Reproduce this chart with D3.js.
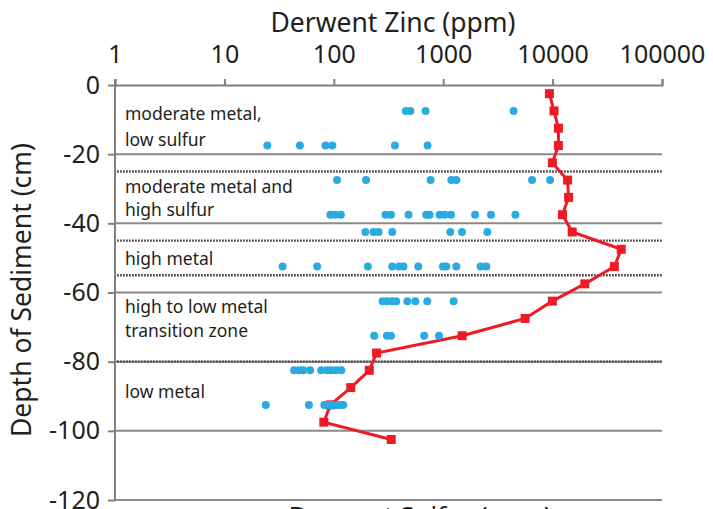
<!DOCTYPE html>
<html>
<head>
<meta charset="utf-8">
<script src="https://cdn.jsdelivr.net/npm/d3@7"></script>
<style>
	body { margin: 0; background: #fff; }
	svg text { font-family: "Noto Sans", "Open Sans", sans-serif; fill: #231f20; }
</style>
</head>
<body>
<svg></svg>
<script>
// Depth profile data (cm, ppm)
const xTicks = [1, 10, 100, 1000, 10000, 100000];
const yTicks = [0, -20, -40, -60, -80, -100, -120];
const gridDepths = [-20, -40, -60, -80, -100, -120];
const zoneDepths = [-25, -45, -55, -80];

const zincDepths = [-2.5, -7.5, -12.5, -17.5, -22.5, -27.5, -32.5, -37.5, -42.5, -47.5, -52.5,
	-57.5, -62.5, -67.5, -72.5, -77.5, -82.5, -87.5, -92.5, -97.5, -102.5];
const zincValues = [9350, 10300, 11300, 11300, 9950, 13700, 14000, 12300, 15100, 42400, 36700,
	19700, 9950, 5600, 1490, 246, 211, 143, 93, 81, 335];

const dotDepths = [-7.5, -17.5, -27.5, -37.5, -42.5, -52.5, -62.5, -72.5, -82.5, -92.5];
const dotValues = [
	[455, 500, 690, 4400],
	[24.7, 49, 84, 97, 362, 720],
	[107, 197, 767, 1186, 1318, 6490, 9490],
	[93, 103, 116, 297, 333, 482, 700, 751, 927, 1030, 1178, 1955, 2735, 4570],
	[194, 231, 257, 342, 1161, 1486, 2531],
	[34, 70.5, 205, 342, 394, 434, 592, 996, 1067, 1318, 2198, 2479],
	[279, 306, 340, 372, 470, 556, 715, 1245],
	[234, 306, 333, 671, 915],
	[43.4, 48.3, 52.5, 60.8, 76.7, 87, 94.7, 105, 117],
	[23.9, 59.2, 82, 89, 97, 105, 114, 122]
];

const zoneLabels = [
	["moderate metal,", "low sulfur"],
	["moderate metal and", "high sulfur"],
	["high metal"],
	["high to low metal", "transition zone"],
	["low metal"]
];
const zoneLabelDepths = [
	[-10.1, -17.5],
	[-31.1, -38.0],
	[-52.1],
	[-66.0, -73.0],
	[-90.4]
];

const svgWidth = 713;
const svgHeight = 509;
const margins = {top: 85, right: 51, bottom: 9, left: 115};

const scaleX = d3.scaleLog()
	.domain([1, 100000])
	.range([margins.left, svgWidth - margins.right]);

const scaleY = d3.scaleLinear()
	.domain([0, -120])
	.range([margins.top, svgHeight - margins.bottom]);

const chart = d3.select('svg')
	.attr('width', svgWidth)
	.attr('height', svgHeight);

const x0 = scaleX.range()[0], x1 = scaleX.range()[1];

// gridlines
chart.append("g")
	.selectAll("line")
	.data(gridDepths)
	.join("line")
	.attr("x1", x0).attr("x2", x1)
	.attr("y1", d => scaleY(d)).attr("y2", d => scaleY(d))
	.attr("stroke", "#8a8a8a")
	.attr("stroke-width", 2);

// zone boundaries
chart.append("g")
	.selectAll("line")
	.data(zoneDepths)
	.join("line")
	.attr("x1", x0 + 2).attr("x2", x1)
	.attr("y1", d => scaleY(d)).attr("y2", d => scaleY(d))
	.attr("stroke", "#4d4d4d")
	.attr("stroke-width", 2.4)
	.attr("stroke-dasharray", "1.8,1.2");

// top axis
chart.append("g")
	.attr("transform", `translate(0, ${margins.top})`)
	.call(d3.axisTop(scaleX)
		.tickValues(xTicks)
		.tickSize(6)
		.tickPadding(16)
		.tickFormat(d => String(d)))
	.call(g => g.selectAll("line, path").attr("stroke", "#808080").attr("stroke-width", 2))
	.call(g => g.selectAll("text").attr("font-size", 25));

// left axis
chart.append("g")
	.attr("transform", `translate(${margins.left}, 0)`)
	.call(d3.axisLeft(scaleY)
		.tickValues(yTicks)
		.tickSize(7)
		.tickPadding(8)
		.tickFormat(d => String(d)))
	.call(g => g.select(".domain").attr("d", `M0,${scaleY(0) - 6}V${scaleY(-120)}`))
	.call(g => g.selectAll("line, path").attr("stroke", "#808080").attr("stroke-width", 2))
	.call(g => g.selectAll("text").attr("font-size", 25).attr("fill", "#231f20"));

chart.selectAll(".tick text").style("font-family", '"Noto Sans", sans-serif');

// zone labels
zoneLabels.forEach((lines, i) => {
	lines.forEach((txt, j) => {
		chart.append("text")
			.attr("x", 125)
			.attr("y", scaleY(zoneLabelDepths[i][j]))
			.attr("font-size", 17.5)
			.text(txt);
	});
});

// zinc line
const line = d3.line()
	.x((d, i) => scaleX(zincValues[i]))
	.y(d => scaleY(d));

chart.append("path")
	.datum(zincDepths)
	.attr("fill", "none")
	.attr("stroke", "#ed1c24")
	.attr("stroke-width", 3)
	.attr("d", line);

chart.append("g")
	.selectAll("rect")
	.data(zincDepths)
	.join("rect")
	.attr("x", (d, i) => scaleX(zincValues[i]) - 4.5)
	.attr("y", d => scaleY(d) - 4.5)
	.attr("width", 9)
	.attr("height", 9)
	.attr("fill", "#ed1c24");

// sample dots
const dots = dotDepths.flatMap((depth, i) => dotValues[i].map(v => ({depth, v})));
chart.append("g")
	.selectAll("circle")
	.data(dots)
	.join("circle")
	.attr("cx", d => scaleX(d.v))
	.attr("cy", d => scaleY(d.depth))
	.attr("r", 4)
	.attr("fill", "#29abe2");

// axis titles
chart.append("text")
	.attr("x", 393)
	.attr("y", 32)
	.attr("text-anchor", "middle")
	.attr("font-size", 26.5)
	.text("Derwent Zinc (ppm)");

chart.append("text")
	.attr("transform", "translate(31, 290) rotate(-90)")
	.attr("text-anchor", "middle")
	.attr("font-size", 26.5)
	.text("Depth of Sediment (cm)");

chart.append("text")
	.attr("x", 420)
	.attr("y", 525)
	.attr("text-anchor", "middle")
	.attr("font-size", 26)
	.text("Derwent Sulfur (ppm)");
</script>
</body>
</html>
